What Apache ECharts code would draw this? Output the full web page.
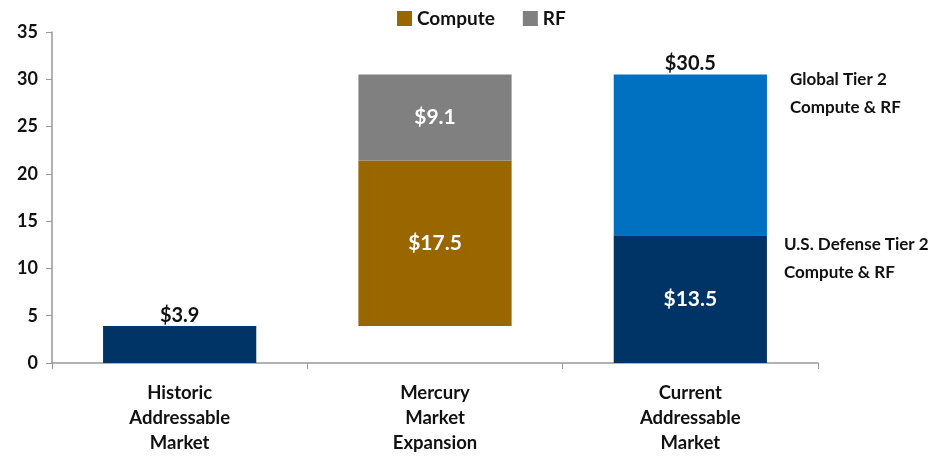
<!DOCTYPE html>
<html>
<head>
<meta charset="utf-8">
<script src="https://cdn.jsdelivr.net/npm/echarts@6/dist/echarts.min.js"></script>
<style>
  html, body { margin: 0; padding: 0; background: #fff; }
  #chart { width: 952px; height: 458px; }
</style>
</head>
<body>
<div id="chart"></div>
<script>
// market sizes, $B
var categories = ['Historic\nAddressable\nMarket', 'Mercury\nMarket\nExpansion', 'Current\nAddressable\nMarket'];
var historicValues = [3.9, '-', '-'];
var baseValues = ['-', 3.9, '-'];       // invisible offset under the expansion bar
var computeValues = ['-', 17.5, '-'];
var rfValues = ['-', 9.1, '-'];
var usDefenseValues = ['-', '-', 13.5];
var globalValues = ['-', '-', 17.0];
var yTicks = [0, 35, 5];               // min, max, interval
var notes = ['Global Tier 2\nCompute & RF', 'U.S. Defense Tier 2\nCompute & RF'];

var FONT = 'Lato, "Open Sans", sans-serif';
var money = function (v) { return '$' + Number(v).toFixed(1); };

var chart = echarts.init(document.getElementById('chart'));

var inLabel = {
  show: true, position: 'inside', color: '#fff',
  fontFamily: FONT, fontWeight: 'bold', fontSize: 21,
  formatter: function (p) { return money(p.value); }
};

var option = {
  animation: false,
  textStyle: { fontFamily: FONT },
  legend: {
    data: ['Compute', 'RF'],
    top: 4,
    left: 392,
    itemWidth: 15,
    itemHeight: 15,
    itemGap: 28,
    icon: 'rect',
    textStyle: { fontFamily: FONT, fontWeight: 'bold', fontSize: 19, color: '#111' }
  },
  grid: { left: 52, right: 134, top: 32, bottom: 95 },
  xAxis: {
    type: 'category',
    data: categories,
    axisLine: { lineStyle: { color: '#999', width: 1.5 } },
    axisTick: { show: true, length: 6, lineStyle: { color: '#999' } },
    axisLabel: {
      margin: 18, lineHeight: 25, color: '#111',
      fontFamily: FONT, fontWeight: 'bold', fontSize: 18.5
    }
  },
  yAxis: {
    type: 'value',
    min: yTicks[0], max: yTicks[1], interval: yTicks[2],
    axisLine: { show: true, lineStyle: { color: '#999', width: 1.5 } },
    axisTick: { show: true, length: 6, lineStyle: { color: '#999' } },
    splitLine: { show: false },
    axisLabel: {
      margin: 14, color: '#111',
      fontFamily: FONT, fontWeight: 'bold', fontSize: 18
    }
  },
  series: [
    {
      name: 'Historic', type: 'bar', stack: 'm', barWidth: '60%',
      data: historicValues,
      itemStyle: { color: '#003366' },
      label: {
        show: true, position: 'top', distance: 1, color: '#111',
        fontFamily: FONT, fontWeight: 'bold', fontSize: 20,
        formatter: function (p) { return money(p.value); }
      }
    },
    {
      name: 'Base', type: 'bar', stack: 'm',
      data: baseValues,
      itemStyle: { color: 'transparent' },
      silent: true
    },
    {
      name: 'Compute', type: 'bar', stack: 'm',
      data: computeValues,
      itemStyle: { color: '#996600' },
      label: inLabel
    },
    {
      name: 'RF', type: 'bar', stack: 'm',
      data: rfValues,
      itemStyle: { color: '#808080' },
      label: inLabel
    },
    {
      name: 'U.S. Defense', type: 'bar', stack: 'm',
      data: usDefenseValues,
      itemStyle: { color: '#003366' },
      label: inLabel
    },
    {
      name: 'Global', type: 'bar', stack: 'm',
      data: globalValues,
      itemStyle: { color: '#0070C0' },
      label: {
        show: true, position: 'top', distance: 1, color: '#111',
        fontFamily: FONT, fontWeight: 'bold', fontSize: 20,
        formatter: function (p) { return money(usDefenseValues[p.dataIndex] + p.value); }
      }
    }
  ],
  graphic: [
    {
      type: 'text', left: 790, top: 66,
      style: { text: notes[0], fill: '#111', font: 'bold 17px ' + FONT, lineHeight: 28 }
    },
    {
      type: 'text', left: 784, top: 231,
      style: { text: notes[1], fill: '#111', font: 'bold 17px ' + FONT, lineHeight: 28 }
    }
  ]
};

chart.setOption(option);
</script>
</body>
</html>
